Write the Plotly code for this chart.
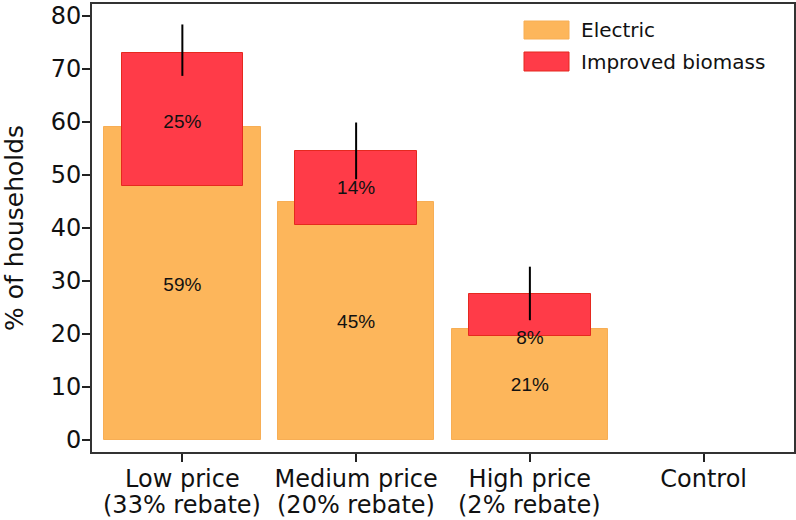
import plotly.graph_objects as go

# ---- data ----
categories = ["Low price", "Medium price", "High price", "Control"]
category_notes = ["(33% rebate)", "(20% rebate)", "(2% rebate)", ""]
electric = [59, 45, 21]
biomass = [25, 14, 8]
biomass_base = [48, 40.6, 19.6]
biomass_ci_low = [68.7, 49.2, 22.6]
biomass_ci_high = [78.4, 59.9, 32.7]
electric_labels = ["59%", "45%", "21%"]
biomass_labels = ["25%", "14%", "8%"]
biomass_label_at = [59.8, 47.3, 19.1]
y_ticks = [0, 10, 20, 30, 40, 50, 60, 70, 80]

ORANGE = "#FDB65B"
ORANGE_LINE = "#F7AE55"
RED = "#FF3B48"
RED_LINE = "#E5291F"

W, H = 796, 520
L, R, T, B = 92, 2, 4, 68
PW, PH = W - L - R, H - T - B


def px(x):
    return (x - L) / PW


def py(y):
    return (H - B - y) / PH


xs = list(range(len(electric)))

fig = go.Figure()
fig.add_trace(go.Bar(
    x=xs, y=electric, width=0.9,
    marker=dict(color=ORANGE, line=dict(color=ORANGE_LINE, width=1)),
    name="Electric", showlegend=False,
))
fig.add_trace(go.Bar(
    x=xs, y=biomass, base=biomass_base, width=0.7,
    marker=dict(color=RED, line=dict(color=RED_LINE, width=1)),
    name="Improved biomass", showlegend=False,
))
for i in xs:
    fig.add_trace(go.Scatter(
        x=[i, i], y=[biomass_ci_low[i], biomass_ci_high[i]], mode="lines",
        line=dict(color="black", width=2), showlegend=False, hoverinfo="skip",
    ))
fig.add_trace(go.Scatter(
    x=xs, y=[v / 2 - 0.4 for v in electric], mode="text", text=electric_labels,
    textfont=dict(family="Liberation Sans, Arial", size=19, color="#111"),
    showlegend=False,
))
fig.add_trace(go.Scatter(
    x=xs, y=biomass_label_at, mode="text", text=biomass_labels,
    textfont=dict(family="Liberation Sans, Arial", size=19, color="#111"),
    showlegend=False,
))

AX_FONT = dict(family="DejaVu Sans", size=24, color="#111")

# second line of category labels
for i, note in enumerate(category_notes):
    if note:
        fig.add_annotation(
            x=i, xref="x", y=0, yref="paper", yanchor="top",
            yshift=-37, text=note, showarrow=False, font=AX_FONT,
        )

# y-axis title
fig.add_annotation(
    x=px(14), y=0.5, xref="paper", yref="paper", xanchor="center", yanchor="middle",
    text="% of households", textangle=-90, showarrow=False,
    font=dict(family="DejaVu Sans", size=25, color="#111"),
)

# legend (drawn manually)
leg_items = [("Electric", ORANGE, ORANGE_LINE, 21, 39), ("Improved biomass", RED, RED_LINE, 52, 71)]
for name, fill, line, y0, y1 in leg_items:
    fig.add_shape(type="rect", xref="paper", yref="paper",
                  x0=px(524), x1=px(569), y0=py(y1), y1=py(y0),
                  fillcolor=fill, line=dict(color=line, width=1))
    fig.add_annotation(x=px(579), y=py((y0 + y1) / 2), xref="paper", yref="paper",
                       xanchor="left", yanchor="middle", text=name, showarrow=False,
                       font=dict(family="DejaVu Sans", size=20, color="#111"))

fig.update_layout(
    width=W, height=H,
    margin=dict(l=L, r=R, t=T, b=B, autoexpand=False),
    paper_bgcolor="white", plot_bgcolor="white",
    barmode="overlay", bargap=0,
    showlegend=False,
)
fig.update_xaxes(
    range=[-0.52, 3.52], tickvals=list(range(len(categories))), ticktext=categories,
    ticks="outside", ticklen=8, tickwidth=1.5, tickcolor="#222",
    showline=True, linecolor="#333", linewidth=2, mirror=True,
    showgrid=False, zeroline=False, tickfont=AX_FONT, automargin=False,
    ticklabelstandoff=-4,
)
fig.update_yaxes(
    range=[-2.26, 82.26], tickvals=y_ticks,
    ticks="outside", ticklen=8, tickwidth=1.5, tickcolor="#222",
    showline=True, linecolor="#333", linewidth=2, mirror=True,
    showgrid=False, zeroline=False, tickfont=AX_FONT, automargin=False,
    ticklabelstandoff=-4,
)

fig.write_html(
    "out.html",
    config={"displayModeBar": False},
    post_script="document.body.style.margin='0';document.body.style.overflow='hidden';",
)
